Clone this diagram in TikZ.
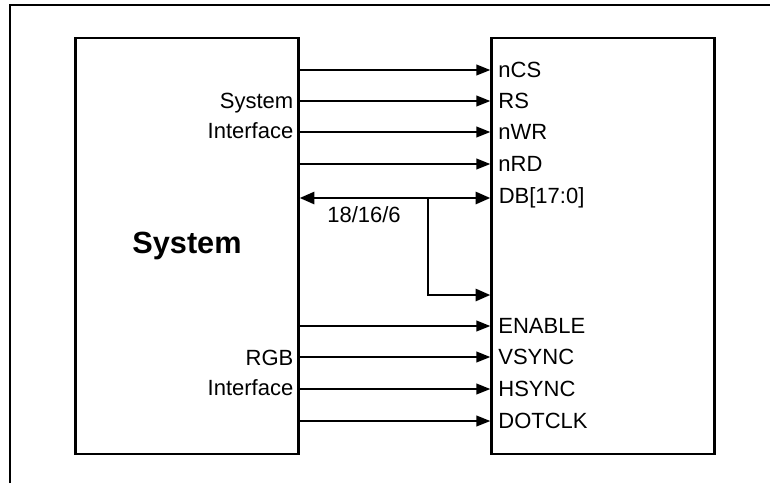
\documentclass[tikz,border=0pt]{standalone}
\usepackage{fontspec}
\setmainfont{Liberation Sans}
\usetikzlibrary{arrows.meta}

\tikzset{
  block/.style={draw,line width=2pt,minimum width=167pt,minimum height=312pt,inner sep=0pt},
  sig/.style={line width=1.4pt,-{Triangle[length=10.5pt,width=8pt]}},
  bus/.style={line width=2pt},
  lbl/.style={font=\fontsize{16.5}{23}\selectfont}
}

\begin{document}
\begin{tikzpicture}[x=0.75pt,y=-0.75pt,line join=miter]
\useasboundingbox (0,0) rectangle (770,483);
\draw[line width=2.2pt] (10,483) |- (770,5);
\node[block,font=\fontsize{23}{27}\selectfont\bfseries] (sys) at (187,246) {System};
\node[block] (lcd) at (603,246) {};
% system interface
\foreach \y/\name in {70/nCS,101/RS,132/nWR,164/nRD} {
  \draw[sig] (sys.east|-0,\y) -- (lcd.west|-0,\y) node[lbl,anchor=west,xshift=2pt] {\name};
}
\node[lbl,align=right,anchor=east] (sysif) at (298,116) {System\\Interface};
% data bus
\coordinate (tap) at (428,198);
\draw[bus,{Triangle[length=11pt,width=9pt]}-{Triangle[length=11pt,width=9pt]}] (sys.east|-tap) -- (lcd.west|-tap)
  node[lbl,anchor=west,xshift=2pt] (db) {DB[17:0]};
\draw[bus,-{Triangle[length=11pt,width=9pt]}] (tap) |- (lcd.west|-0,295);
\node[lbl] (width) at (364,215) {18/16/6};
% rgb interface
\foreach \y/\name in {326/ENABLE,357/VSYNC,389/HSYNC,421/DOTCLK} {
  \draw[sig] (sys.east|-0,\y) -- (lcd.west|-0,\y) node[lbl,anchor=west,xshift=2pt] {\name};
}
\node[lbl,align=right,anchor=east] (rgbif) at (298,373) {RGB\\Interface};
\end{tikzpicture}
\end{document}
